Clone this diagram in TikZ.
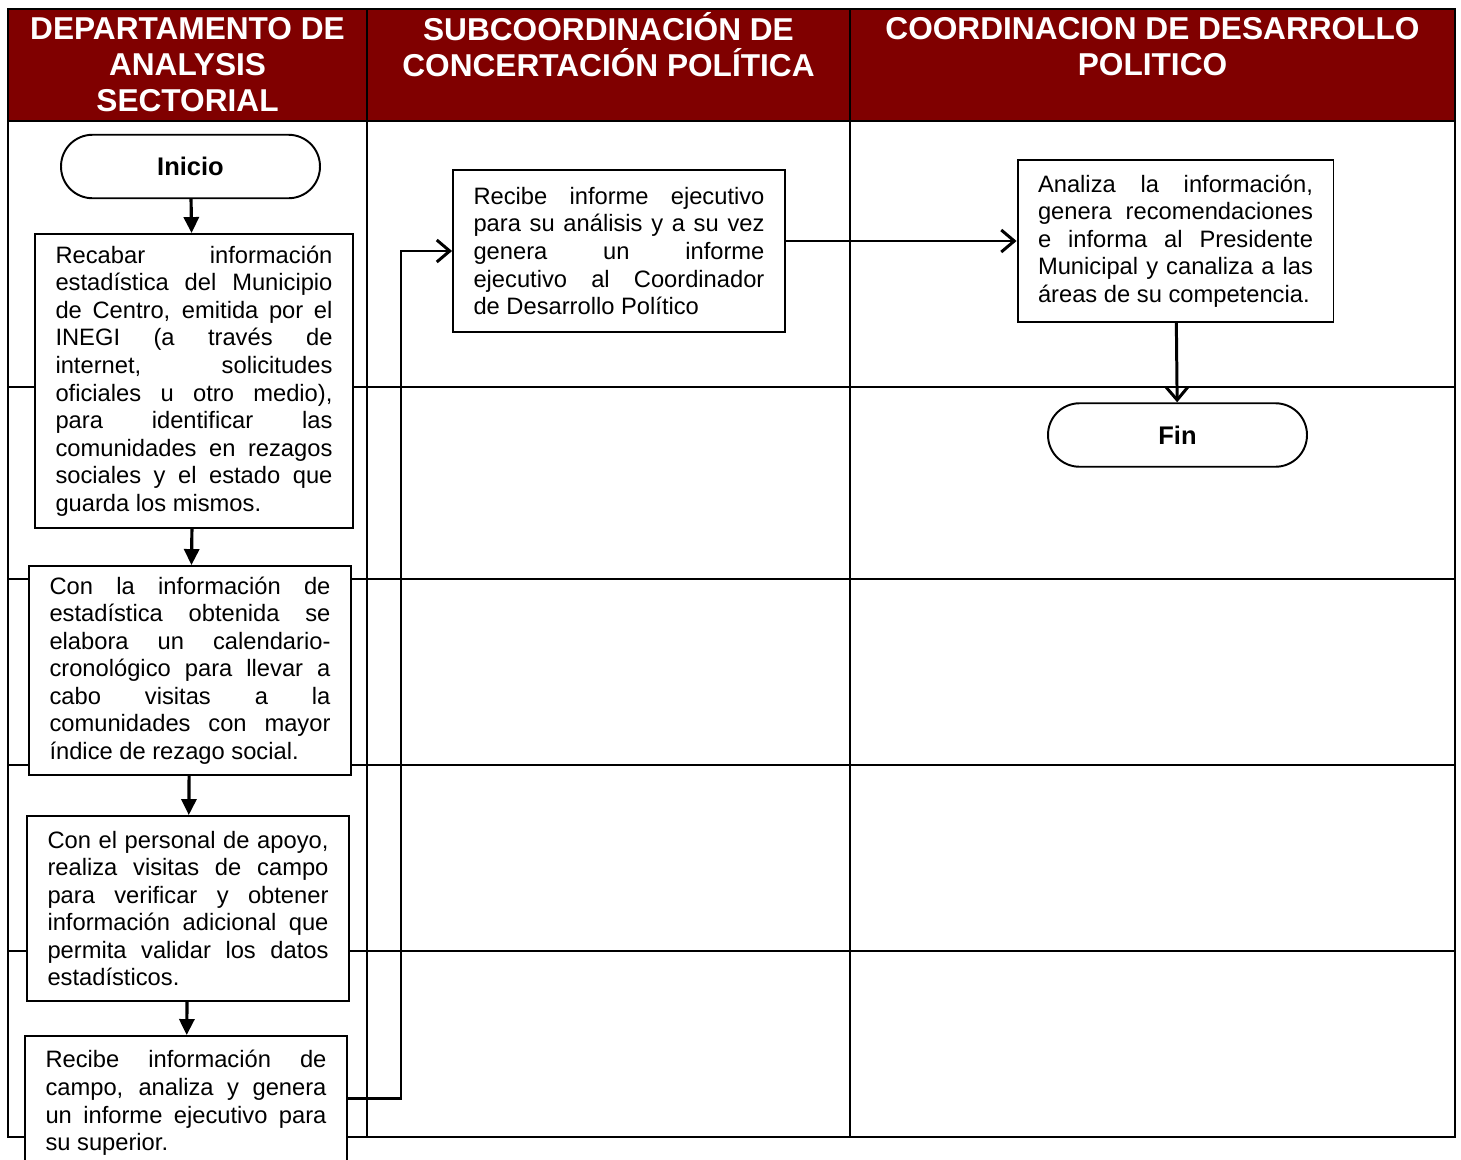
\documentclass[tikz,border=0pt]{standalone}
\usepackage{fontspec}
\setmainfont{Liberation Sans}
\usepackage{tikz}
\usetikzlibrary{positioning}
\usetikzlibrary{arrows.meta}
\definecolor{laneRed}{HTML}{800000}
\tolerance=10000
\hbadness=10000
\hyphenpenalty=10000
\tikzset{
  box_node/.style = {draw=black, fill=white, line width=1.1pt, align=justify,
    inner xsep=0.41cm, inner ysep=0pt, font=\fontsize{13.5}{15.7}\selectfont},
  term_node/.style = {draw=black, fill=white, line width=1.1pt,
    rounded corners=0.63cm, minimum width=5.18cm, minimum height=1.27cm,
    font=\bfseries\fontsize{14.5}{17}\selectfont},
  head_node/.style = {white, align=center, inner sep=0pt,
    font=\bfseries\fontsize{18}{20.4}\selectfont},
  grid_line/.style = {line width=1.1pt},
  down_arrow/.style = {-{Triangle[length=0.32cm,width=0.3cm]}, line width=1.8pt},
  open_arrow/.style = {-{Straight Barb[length=0.26cm,width=0.44cm]}, line width=1.7pt}
}
\begin{document}
\begin{tikzpicture}[x=0.02cm, y=-0.02cm]
  \useasboundingbox (0,0) rectangle (1461,1160);
  \fill[laneRed] (8,9) rectangle (1455,121);
  \draw[grid_line] (8,9) rectangle (1455,1137);
  \draw[grid_line] (8,121) -- (1455,121);
  \draw[grid_line] (367,9) -- (367,1137);
  \draw[grid_line] (850,9) -- (850,1137);
  \foreach \y in {387,579,765,951}
    \draw[grid_line] (8,\y) -- (1455,\y);

  \node[head_node] (head dept) at (187.5,64.5)
    {DEPARTAMENTO DE\\ANALYSIS\\SECTORIAL};
  \node[head_node] (head sub) at (608.5,45)
    {SUBCOORDINACIÓN DE\\CONCERTACIÓN POLÍTICA};
  \node[head_node] (head coord) at (1152.5,47)
    {COORDINACION DE DESARROLLO\\POLITICO};

  \node[term_node] (inicio) at (190.5,166.5) {Inicio};
  \node[box_node, text width=5.54cm, minimum height=5.88cm] (recabar) at (194,381)
    {Recabar información\linebreak estadística del Municipio\linebreak
     de Centro, emitida por el\linebreak INEGI (a través de\linebreak
     internet, solicitudes\linebreak oficiales u otro medio),\linebreak
     para identificar las\linebreak comunidades en rezagos\linebreak
     sociales y el estado que\linebreak guarda los mismos.};
  \node[box_node, text width=5.62cm, minimum height=4.18cm] (calendario) at (190,670.5)
    {Con la información de\linebreak estadística obtenida se\linebreak
     elabora un calendario-\linebreak cronológico para llevar a\linebreak
     cabo visitas a la\linebreak comunidades con mayor\linebreak
     índice de rezago social.};
  \node[box_node, text width=5.62cm, minimum height=3.7cm] (visitas) at (188,908.5)
    {Con el personal de apoyo,\linebreak realiza visitas de campo\linebreak
     para verificar y obtener\linebreak información adicional que\linebreak
     permita validar los datos\linebreak estadísticos.};
  \node[box_node, text width=5.62cm, minimum height=2.68cm] (informe) at (186,1103)
    {Recibe información de\linebreak campo, analiza y genera\linebreak
     un informe ejecutivo para\linebreak su superior.};
  \node[box_node, text width=5.82cm, minimum height=3.24cm] (recibe) at (619,251)
    {Recibe informe ejecutivo\linebreak para su análisis y a su vez\linebreak
     genera un informe\linebreak ejecutivo al Coordinador\linebreak
     de Desarrollo Político};
  \node[box_node, text width=5.5cm, minimum height=3.24cm] (analiza) at (1175.5,241)
    {Analiza la información,\linebreak genera recomendaciones\linebreak
     e informa al Presidente\linebreak Municipal y canaliza a las\linebreak
     áreas de su competencia.};
  \node[term_node] (fin) at (1177.5,435) {Fin};

  \coordinate (jog) at (401,1098);
  \draw[down_arrow] (inicio) -- (recabar);
  \draw[down_arrow] (recabar) -- (calendario);
  \draw[down_arrow] (calendario) -- (visitas);
  \draw[down_arrow] (visitas) -- (informe);
  \draw[open_arrow] (informe.east |- jog) -- (jog) |- (recibe);
  \draw[open_arrow] (recibe.east |- analiza) -- (analiza);
  \draw[open_arrow] (analiza) -- (fin);
\end{tikzpicture}
\end{document}
